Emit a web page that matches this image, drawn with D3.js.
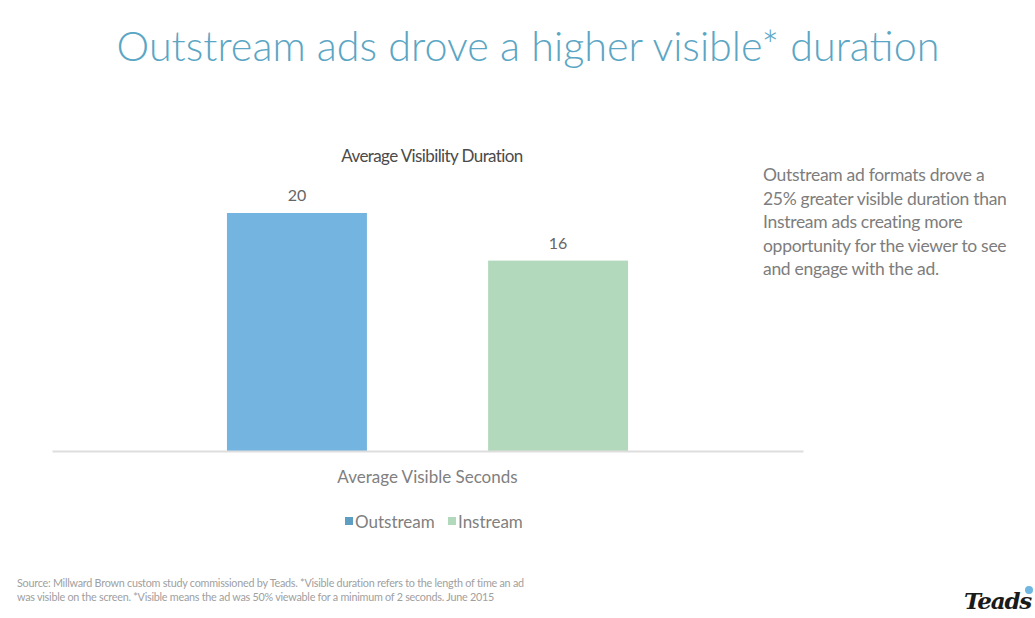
<!DOCTYPE html>
<html>
<head>
<meta charset="utf-8">
<script src="https://cdn.jsdelivr.net/npm/d3@7/dist/d3.min.js"></script>
<style>
  html, body { margin: 0; padding: 0; background: #ffffff; }
  svg { display: block; font-family: Lato, "Open Sans", sans-serif; }
</style>
</head>
<body>
<svg id="chart" width="1035" height="618"></svg>
<script>
// Chart data
const category = "Average Visible Seconds";
const seriesNames = ["Outstream", "Instream"];
const seriesValues = [20, 16];
const seriesColors = ["#74b4e0", "#b3d9bd"];
const legendColors = ["#5e9ec0", "#b3d9bd"];
const titleText = "Outstream ads drove a higher visible* duration";
const chartTitle = "Average Visibility Duration";
const noteLines = [
  "Outstream ad formats drove a",
  "25% greater visible duration than",
  "Instream ads creating more",
  "opportunity for the viewer to see",
  "and engage with the ad."
];
const sourceLines = [
  "Source: Millward Brown custom study commissioned by Teads. *Visible duration refers to the length of time an ad",
  "was visible on the screen. *Visible means the ad was 50% viewable for a minimum of 2 seconds.  June 2015"
];

const svg = d3.select("#chart");

// Plot area
const plot = { left: 52, right: 803, top: 130, bottom: 451 };

const x = d3.scaleBand()
  .domain(seriesNames)
  .range([plot.left, plot.right])
  .paddingInner(0.464)
  .paddingOuter(0.67);

const y = d3.scaleLinear()
  .domain([0, 20])
  .range([plot.bottom, 213]);

// Main heading
svg.append("text")
  .attr("x", 528).attr("y", 61)
  .attr("text-anchor", "middle")
  .attr("font-size", 41.3)
  .attr("font-weight", 300)
  .attr("fill", "#5ba6c4")
  .text(titleText);

// Chart title
svg.append("text")
  .attr("x", 432).attr("y", 162)
  .attr("text-anchor", "middle")
  .attr("font-size", 17)
  .attr("fill", "#4a4a4a")
  .attr("letter-spacing", -0.6)
  .text(chartTitle);

// Bars
const data = seriesNames.map((name, i) => ({ name, value: seriesValues[i], color: seriesColors[i] }));

svg.append("g").selectAll("rect")
  .data(data)
  .join("rect")
  .attr("x", d => x(d.name))
  .attr("y", d => y(d.value))
  .attr("width", x.bandwidth())
  .attr("height", d => y(0) - y(d.value))
  .attr("fill", d => d.color);

// Value labels
svg.append("g").selectAll("text")
  .data(data)
  .join("text")
  .attr("x", d => x(d.name) + x.bandwidth() / 2)
  .attr("y", d => y(d.value) - 12)
  .attr("text-anchor", "middle")
  .attr("font-size", 16)
  .attr("fill", "#666")
  .text(d => d.value);

// Category axis
const xAxis = svg.append("g")
  .attr("transform", `translate(0,${plot.bottom})`)
  .call(d3.axisBottom(d3.scaleBand().domain([category]).range([plot.left, plot.right]))
    .tickSize(0).tickPadding(20));
xAxis.select(".domain").attr("stroke", "#dedede").attr("stroke-width", 2);
xAxis.selectAll("text")
  .attr("font-family", "Lato, sans-serif")
  .attr("font-size", 17)
  .attr("fill", "#808080");

// Legend
const legendX = [345, 448];
const legend = svg.append("g").attr("transform", "translate(0,528)");
const legendItems = legend.selectAll("g")
  .data(data)
  .join("g")
  .attr("transform", (d, i) => `translate(${legendX[i]},0)`);
legendItems.append("rect")
  .attr("x", 0).attr("y", -11)
  .attr("width", 8).attr("height", 8)
  .attr("fill", (d, i) => legendColors[i]);
legendItems.append("text")
  .attr("x", 10).attr("y", 0)
  .attr("font-size", 17)
  .attr("fill", "#808080")
  .text(d => d.name);

// Side note
svg.append("g").selectAll("text")
  .data(noteLines)
  .join("text")
  .attr("x", 763)
  .attr("y", (d, i) => 181 + i * 23.5)
  .attr("font-size", 17.5)
  .attr("fill", "#7d7d7d")
  .attr("letter-spacing", -0.3)
  .text(d => d);

// Source footnote
svg.append("g").selectAll("text")
  .data(sourceLines)
  .join("text")
  .attr("x", 17)
  .attr("y", (d, i) => 587 + i * 14)
  .attr("font-size", 10.8)
  .attr("fill", "#a0a0a0")
  .attr("letter-spacing", -0.25)
  .text(d => d);

// Brand mark
svg.append("text")
  .attr("x", 964).attr("y", 609)
  .attr("font-family", "DejaVu Serif, serif")
  .attr("font-style", "italic")
  .attr("font-weight", 700)
  .attr("font-size", 23)
  .attr("fill", "#1a1a1a")
  .attr("letter-spacing", -1.2)
  .text("Teads");
svg.append("circle")
  .attr("cx", 1029).attr("cy", 590).attr("r", 4)
  .attr("fill", "#6fb6e0");
</script>
</body>
</html>
